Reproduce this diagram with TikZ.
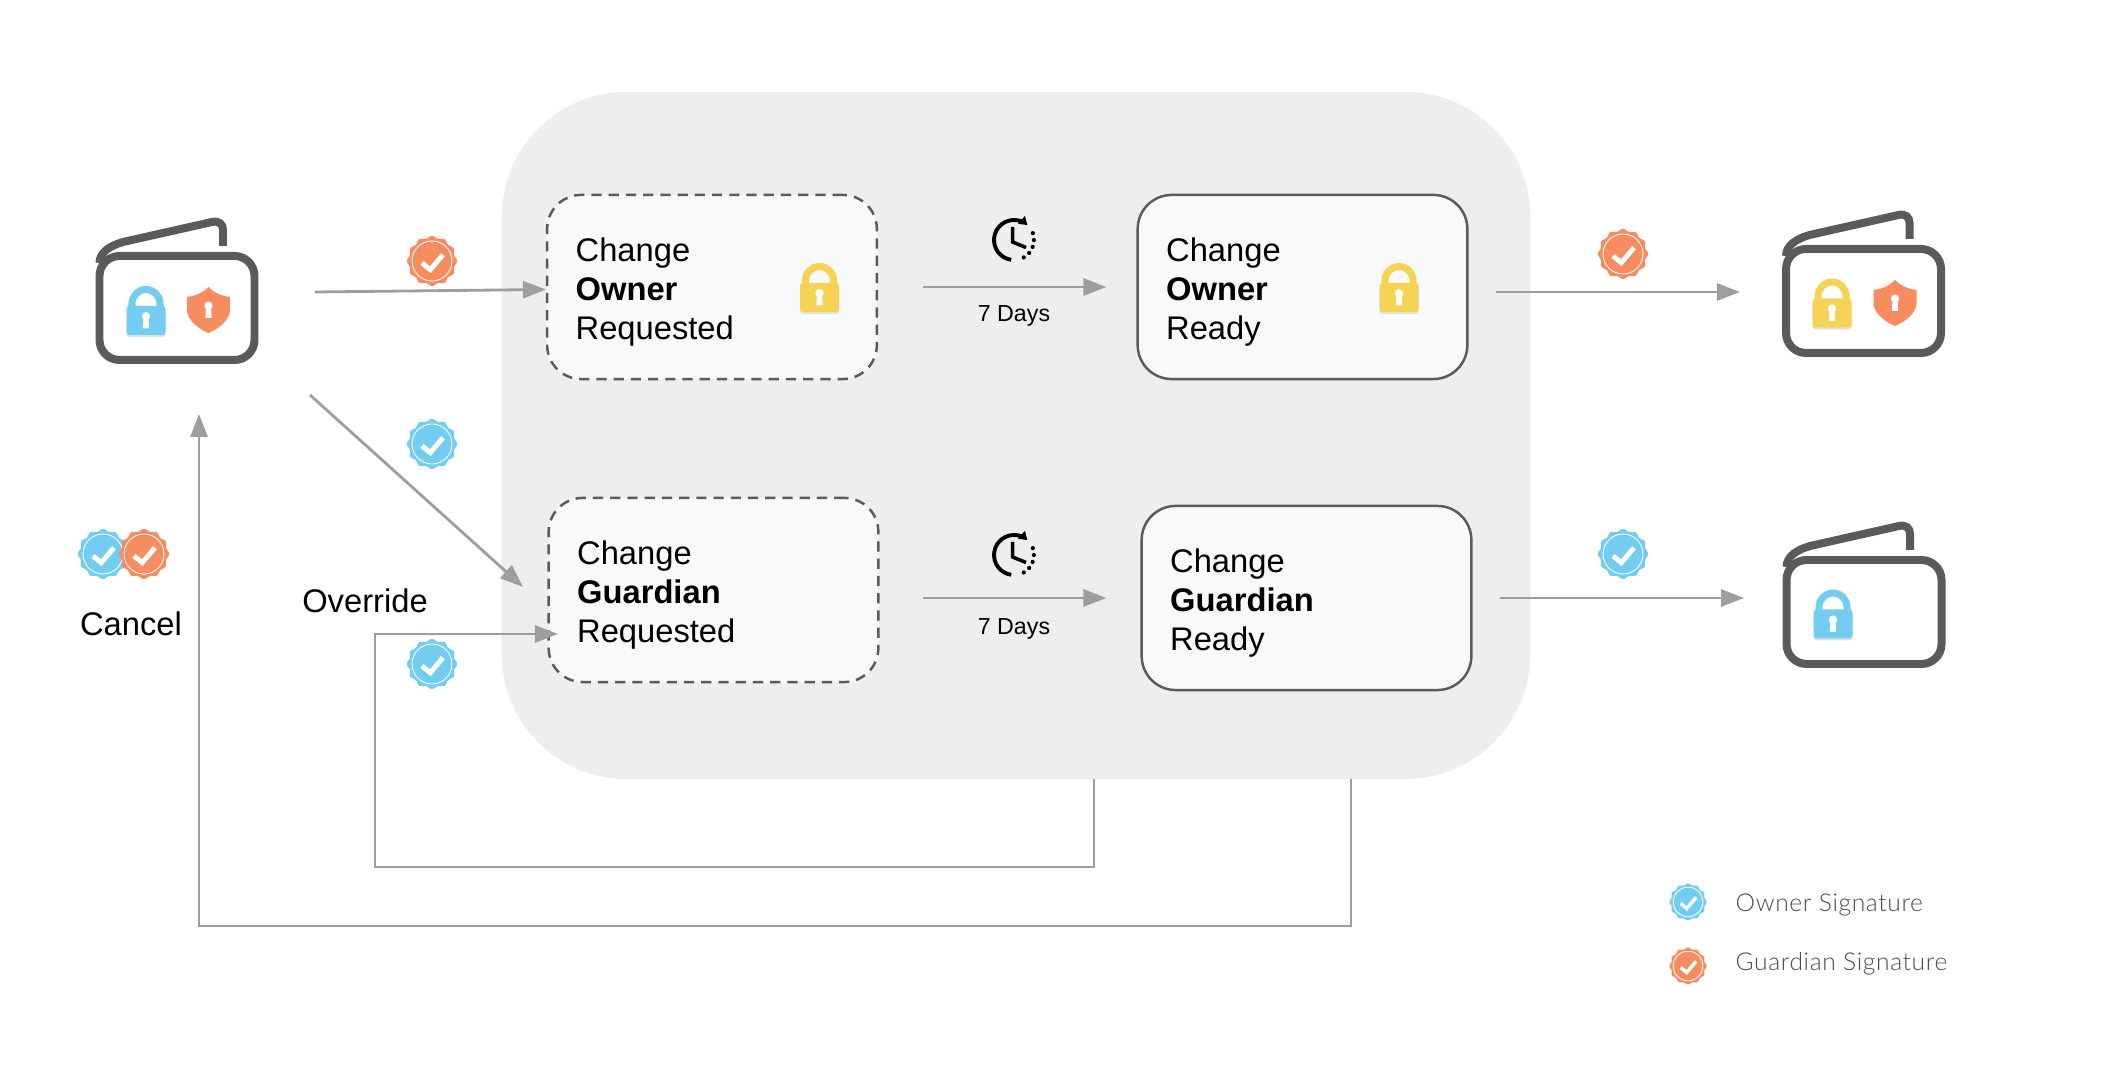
\documentclass[tikz,border=0pt]{standalone}
\usepackage{fontspec}
\setmainfont{Liberation Sans}
\newfontfamily\legendfont[UprightFont=* Light,LetterSpace=2.5]{Lato}
\usetikzlibrary{arrows.meta}

\definecolor{ownerblue}{HTML}{73CDF0}
\definecolor{guardorange}{HTML}{F68C60}
\definecolor{lockyellow}{HTML}{F5D354}
\definecolor{walletgray}{HTML}{5A5A5A}
\definecolor{flowgray}{HTML}{9E9E9E}
\definecolor{panelgray}{HTML}{EEEEEE}
\definecolor{boxfill}{HTML}{F9F9F9}

\tikzset{
    flow/.style={draw=flowgray,line width=0.8pt,-{Triangle[length=0.23cm,width=0.17cm]}},
    changebox/.style={draw=walletgray,line width=0.7pt,fill=boxfill,rounded corners=0.34cm,
        minimum height=1.84cm,text width=2.725cm,inner sep=0.285cm,align=left,
        font=\fontsize{9.3}{11}\selectfont,execute at begin node={\rule{0pt}{9.7pt}}},
    requested/.style={changebox,dash pattern=on 2.9pt off 2pt},
    biglabel/.style={font=\fontsize{9.3}{11}\selectfont,inner sep=0pt},
    waitlabel/.style={font=\fontsize{6.6}{8}\selectfont,inner sep=0pt},
    legendlabel/.style={font=\fontsize{7}{8}\legendfont,text=walletgray!85!black,inner sep=0pt,anchor=base west},
    pics/badge/.style 2 args={code={
        \fill[#1] plot[domain=0:356,samples=90] (\x:{24+1.1*cos(12*\x)}) -- cycle;
        \draw[white,line width=0.25pt] (0,0) circle (20);
        \draw[white,line width=#2] (-10,-2) -- (-1.7,-8.7) -- (11,6.3);
    }},
    pics/lock/.style={code={
        \fill[black!12,rounded corners=0.03cm] (-19.5,-16.5) rectangle (19.5,12.5);
        \draw[#1,line width=2pt] (-14,12) -- (-14,17) arc[start angle=180,end angle=0,radius=14] -- (14,12);
        \fill[#1,rounded corners=0.03cm] (-19.5,-14.5) rectangle (19.5,14.5);
        \fill[white] (0,4.3) circle (4.2);
        \fill[white] (-2.4,4) -- (2.4,4) -- (3.2,-8) -- (-3.2,-8) -- cycle;
    }},
    pics/shield/.style={code={
        \fill[guardorange] (0,23) .. controls (6,17) and (13,14) .. (21.5,13) -- (21.5,0)
            .. controls (21.5,-10) and (10,-19) .. (0,-23)
            .. controls (-10,-19) and (-21.5,-10) .. (-21.5,0) -- (-21.5,13)
            .. controls (-13,14) and (-6,17) .. (0,23) -- cycle;
        \fill[white] (0,4.3) circle (4.2);
        \fill[white] (-2.4,4) -- (2.4,4) -- (3.2,-8) -- (-3.2,-8) -- cycle;
    }},
    pics/wallet/.style={code={
        \draw[walletgray,line width=2.27pt,rounded corners=0.2cm] (-77.5,-52) rectangle (77.5,52);
        \draw[walletgray,line width=2.27pt] (-77.5,45) .. controls (-77.5,55) and (-68,62) .. (-54,66)
            -- (35,86) .. controls (42,87.5) and (46,84) .. (46,78) -- (46,62);
    }},
    pics/waitclock/.style={code={
        \draw[black,line width=1.1pt,-{Triangle[length=0.08cm,width=0.1cm]}] (0,0) ++(262:20) arc[start angle=262,end angle=48,radius=20];
        \draw[black,line width=1.2pt,line cap=round,dash pattern=on 0pt off 2pt] (0,0) ++(20:20) arc[start angle=20,end angle=-80,radius=20];
        \draw[black,line width=1pt] (-1.5,13) -- (-1.5,-2) -- (12,-7.5);
    }},
}

\begin{document}
\begin{tikzpicture}[x=0.01cm,y=0.01cm]
        \useasboundingbox (0,0) rectangle (2122,1076);

        \node[fill=panelgray,rounded corners=1.25cm,minimum width=10.28cm,minimum height=6.87cm] (panel) at (1016,640.5) {};

        \node[requested] (ownerReq) at (712,789) {Change\\\textbf{Owner}\\Requested};
        \node[changebox] (ownerReady) at (1302.5,789) {Change\\\textbf{Owner}\\Ready};
        \node[requested] (guardReq) at (713.5,486) {Change\\\textbf{Guardian}\\Requested};
        \node[changebox] (guardReady) at (1306.5,478) {Change\\\textbf{Guardian}\\Ready};

        \node[biglabel] (cancel) at (131,452) {Cancel};
        \node[biglabel] (override) at (365,475) {Override};
        \node[waitlabel] (waitOwner) at (1014,760) {7 Days};
        \node[waitlabel] (waitGuard) at (1014,447) {7 Days};
        \node[legendlabel] (legendOwner) at (1735,164) {Owner Signature};
        \node[legendlabel] (legendGuard) at (1735,106) {Guardian Signature};

        \coordinate (walletOut) at (315,784);
        \coordinate (walletDiag) at (310,681);
        \coordinate (guardIn) at (523,489);
        \coordinate (ownerEnd) at (1740,784);
        \coordinate (guardEnd) at (1744,479);
        \coordinate (overrideA) at (1094,297);
        \coordinate (overrideB) at (1094,209);
        \coordinate (overrideC) at (375,209);
        \coordinate (overrideD) at (375,442);
        \coordinate (overrideE) at (558,442);
        \coordinate (cancelA) at (1351,297);
        \coordinate (cancelB) at (1351,150);
        \coordinate (cancelC) at (199,150);
        \coordinate (cancelD) at (199,662);

        \draw [flow] (walletOut) -- ([yshift=-0.025cm]ownerReq.west);
        \draw [flow] (walletDiag) -- (guardIn);
        \draw [flow] ([xshift=0.45cm]ownerReq.east) -- ([xshift=-0.3cm]ownerReady.west);
        \draw [flow] ([xshift=0.43cm]guardReq.east |- guardReady.west) -- ([xshift=-0.34cm]guardReady.west);
        \draw [flow] ([shift={(27,-5)}]ownerReady.east) -- (ownerEnd);
        \draw [flow] ([xshift=0.27cm]guardReady.east) -- (guardEnd |- guardReady.east);
        \draw [flow] (overrideA) -- (overrideB) -- (overrideC) -- (overrideD) -- (overrideE);
        \draw [flow] (cancelA) -- (cancelB) -- (cancelC) -- (cancelD);

        \pic (walletStart) at (177,768) {wallet};
        \pic (lockStart) at (146,755.5) {lock=ownerblue};
        \pic (shieldStart) at (208.5,766) {shield};
        \pic (walletOwner) at (1863.5,775) {wallet};
        \pic (lockOwner) at (1832,763) {lock=lockyellow};
        \pic (shieldOwner) at (1895,773) {shield};
        \pic (walletGuard) at (1864,464) {wallet};
        \pic (lockGuard) at (1833,452) {lock=ownerblue};
        \pic (lockOwnerReq) at (819.5,778.5) {lock=lockyellow};
        \pic (lockOwnerReady) at (1399,778.5) {lock=lockyellow};

        \pic (clockOwner) at (1014,836) {waitclock};
        \pic (clockGuard) at (1014,521) {waitclock};

        \pic (badgeA) at (432,815) {badge={guardorange}{1.4pt}};
        \pic (badgeB) at (432,632) {badge={ownerblue}{1.4pt}};
        \pic (badgeC) at (432,412) {badge={ownerblue}{1.4pt}};
        \pic (badgeD) at (103,522) {badge={ownerblue}{1.4pt}};
        \pic (badgeE) at (144,522) {badge={guardorange}{1.4pt}};
        \pic (badgeF) at (1623,822) {badge={guardorange}{1.4pt}};
        \pic (badgeG) at (1623,522) {badge={ownerblue}{1.4pt}};
        \pic[scale=0.74] (badgeH) at (1688,174) {badge={ownerblue}{1pt}};
        \pic[scale=0.74] (badgeI) at (1688,110) {badge={guardorange}{1pt}};
    \end{tikzpicture}
\end{document}
